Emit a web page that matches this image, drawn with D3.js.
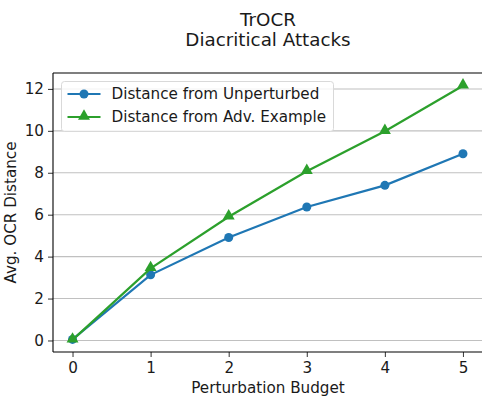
<!DOCTYPE html>
<html>
<head>
<meta charset="utf-8">
<script src="https://cdn.jsdelivr.net/npm/d3@7"></script>
<style>
  body { margin: 0; background: #fff; }
  svg { display: block; font-family: "DejaVu Sans", sans-serif; }
</style>
</head>
<body>
<svg id="chart"></svg>
<script>
// Data
const budgets = [0, 1, 2, 3, 4, 5];
const fromUnperturbed = [0.05, 3.13, 4.91, 6.37, 7.40, 8.91];
const fromAdvExample = [0.03, 3.44, 5.90, 8.07, 9.98, 12.15];
const yTicks = [0, 2, 4, 6, 8, 10, 12];
const seriesNames = ["Distance from Unperturbed", "Distance from Adv. Example"];
const seriesColors = ["#1f77b4", "#2ca02c"];

const width = 482;
const height = 396;
const margin = { top: 73, right: 0, bottom: 44, left: 53 };
const fs = 15.2;

const svg = d3.select("#chart")
    .attr("width", width)
    .attr("height", height);

// Scales (matplotlib-like 5% padding)
const x = d3.scaleLinear()
    .domain([-0.25, 5.25])
    .range([margin.left, width + 0.5]);

const y = d3.scaleLinear()
    .domain([-0.55, 12.76])
    .range([height - margin.bottom, margin.top]);

// Horizontal grid
svg.append("g")
    .selectAll("line")
    .data(yTicks)
    .join("line")
    .attr("x1", margin.left)
    .attr("x2", width)
    .attr("y1", d => y(d))
    .attr("y2", d => y(d))
    .attr("stroke", "#c0c0c0")
    .attr("stroke-width", 1.1);

// Axes
const xAxis = svg.append("g")
    .attr("transform", `translate(0,${height - margin.bottom})`)
    .call(d3.axisBottom(x).tickValues(budgets).tickSize(5).tickPadding(5.5).tickFormat(d3.format("d")));

const yAxis = svg.append("g")
    .attr("transform", `translate(${margin.left},0)`)
    .call(d3.axisLeft(y).tickValues(yTicks).tickSize(5).tickPadding(4).tickFormat(d3.format("d")));

[xAxis, yAxis].forEach(g => {
    g.select(".domain").remove();
    g.selectAll(".tick line").attr("stroke", "#444").attr("stroke-width", 1.1);
    g.selectAll(".tick text")
        .attr("fill", "#1a1a1a")
        .style("font-size", fs + "px")
        .style("font-family", "DejaVu Sans");
});

// Spines (left, bottom, top; right is off-image)
const frame = svg.append("g").attr("stroke", "#000").attr("stroke-width", 1.1);
frame.append("line").attr("x1", margin.left).attr("x2", margin.left)
    .attr("y1", margin.top).attr("y2", height - margin.bottom);
frame.append("line").attr("x1", margin.left).attr("x2", width)
    .attr("y1", height - margin.bottom).attr("y2", height - margin.bottom);
frame.append("line").attr("x1", margin.left).attr("x2", width)
    .attr("y1", margin.top).attr("y2", margin.top);

// Lines and markers
const seriesData = [fromUnperturbed, fromAdvExample];
const line = d3.line()
    .x((d, i) => x(budgets[i]))
    .y(d => y(d));

const triangle = d3.symbol().type(d3.symbolTriangle).size(62);

seriesData.forEach((vals, s) => {
    const g = svg.append("g");
    g.append("path")
        .datum(vals)
        .attr("fill", "none")
        .attr("stroke", seriesColors[s])
        .attr("stroke-width", 2.2)
        .attr("d", line);
    if (s === 0) {
        g.selectAll("circle")
            .data(vals)
            .join("circle")
            .attr("cx", (d, i) => x(budgets[i]))
            .attr("cy", d => y(d))
            .attr("r", 4.5)
            .attr("fill", seriesColors[s]);
    } else {
        g.selectAll("path.mk")
            .data(vals)
            .join("path")
            .attr("class", "mk")
            .attr("d", triangle)
            .attr("transform", (d, i) => `translate(${x(budgets[i])},${y(d) - 0.8})`)
            .attr("fill", seriesColors[s]);
    }
});

// Legend
const legend = svg.append("g").attr("transform", "translate(61.5,81.5)");
legend.append("rect")
    .attr("width", 272)
    .attr("height", 50)
    .attr("rx", 3)
    .attr("fill", "#fff")
    .attr("fill-opacity", 0.8)
    .attr("stroke", "#d9d9d9")
    .attr("stroke-width", 1);

seriesNames.forEach((name, s) => {
    const ly = 12.5 + s * 23;
    const row = legend.append("g");
    row.append("line")
        .attr("x1", 6).attr("x2", 39)
        .attr("y1", ly).attr("y2", ly)
        .attr("stroke", seriesColors[s])
        .attr("stroke-width", 2.2);
    if (s === 0) {
        row.append("circle").attr("cx", 22.5).attr("cy", ly).attr("r", 4.5).attr("fill", seriesColors[s]);
    } else {
        row.append("path").attr("d", triangle)
            .attr("transform", `translate(22.5,${ly - 0.8})`)
            .attr("fill", seriesColors[s]);
    }
    row.append("text")
        .attr("x", 50)
        .attr("y", ly)
        .attr("dy", "0.35em")
        .attr("fill", "#1a1a1a")
        .style("font-size", fs + "px")
        .text(name);
});

// Titles and axis labels
const cx = (margin.left + width) / 2 + 0.5;
svg.append("text")
    .attr("x", cx).attr("y", 26)
    .attr("text-anchor", "middle")
    .attr("fill", "#1a1a1a")
    .style("font-size", "18.3px")
    .text("TrOCR");
svg.append("text")
    .attr("x", cx).attr("y", 45.7)
    .attr("text-anchor", "middle")
    .attr("fill", "#1a1a1a")
    .style("font-size", "18.3px")
    .text("Diacritical Attacks");

svg.append("text")
    .attr("x", cx).attr("y", 393)
    .attr("text-anchor", "middle")
    .attr("fill", "#1a1a1a")
    .style("font-size", fs + "px")
    .text("Perturbation Budget");

svg.append("text")
    .attr("transform", `translate(16,${(margin.top + height - margin.bottom) / 2}) rotate(-90)`)
    .attr("text-anchor", "middle")
    .attr("fill", "#1a1a1a")
    .style("font-size", fs + "px")
    .text("Avg. OCR Distance");
</script>
</body>
</html>
